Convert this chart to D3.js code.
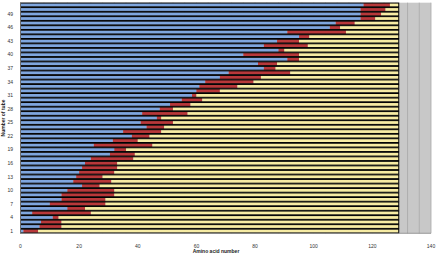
<!DOCTYPE html>
<html>
<head>
<meta charset="utf-8">
<script src="https://cdn.jsdelivr.net/npm/d3@7"></script>
<style>
  body { margin: 0; background: #fff; }
  text { font-family: "Liberation Sans", Arial, sans-serif; }
</style>
</head>
<body>
<script>
// tube numbers (categories), bottom to top
var tubes = [1, 2, 3, 4, 5, 6, 7, 8, 9, 10, 11, 12, 13, 14, 15, 16, 17, 18, 19, 20,
  21, 22, 23, 24, 25, 26, 27, 28, 29, 30, 31, 32, 33, 34, 35, 36, 37, 38, 39, 40,
  41, 42, 43, 44, 45, 46, 47, 48, 49, 50, 51];
// blue segment length (amino acids)
var blueLen = [1, 6.5, 7, 11, 4, 16, 10, 14, 14, 16, 21, 18, 19, 20, 21, 22, 24, 30.5, 32, 25,
  31.5, 38, 35, 43, 41, 46.5, 41.5, 47.5, 51, 55, 58.5, 60, 61, 63, 68, 71, 83, 81, 91, 76,
  88, 83, 87.5, 95, 91, 105.5, 107.5, 116, 116, 116, 117];
// red segment length
var redLen = [5, 7.5, 7, 2, 20, 6, 19, 15, 18, 16, 6, 13, 9, 12, 12, 11, 14.5, 8.5, 4, 20,
  8.5, 6, 13, 6, 11, 1.5, 15.5, 4.5, 7, 7, 1.5, 8, 13, 16.5, 14, 21, 4, 6.5, 4, 19,
  2, 15, 7.5, 3.5, 20, 3.5, 6.5, 5, 7, 8.5, 9];
// yellow segment length
var yellowLen = [123, 115, 115, 116, 105, 107, 100, 100, 97, 97, 102, 98, 101, 97, 96, 96, 90.5, 90, 93, 84,
  89, 85, 81, 80, 77, 81, 72, 77, 71, 67, 69, 61, 55, 49.5, 47, 37, 42, 41.5, 34, 34,
  39, 31, 34, 30.5, 18, 20, 15, 8, 6, 4.5, 3];
var xTicks = [0, 20, 40, 60, 80, 100, 120, 140];
var yTickLabels = [1, 4, 7, 10, 13, 16, 19, 22, 25, 28, 31, 34, 37, 40, 43, 46, 49];

var width = 436;
var height = 256;
var plotL = 20.5, plotR = 431, plotT = 2.7, plotB = 233.3;

var svg = d3.select("body").append("svg")
  .attr("width", width)
  .attr("height", height);

var x = d3.scaleLinear().domain([0, 140]).range([plotL, plotR]);
var y = d3.scaleBand().domain(tubes).range([plotB, plotT]).padding(0);

// plot area
svg.append("rect")
  .attr("x", plotL).attr("y", plotT)
  .attr("width", plotR - plotL).attr("height", plotB - plotT)
  .style("fill", "#c8c8c8");

// vertical gridlines every 4
svg.append("g")
  .selectAll("line")
  .data(d3.range(4, 141, 4))
  .enter().append("line")
  .attr("x1", function (d) { return x(d); })
  .attr("x2", function (d) { return x(d); })
  .attr("y1", plotT).attr("y2", plotB)
  .style("stroke", "#a8a8a8")
  .style("stroke-width", 0.8);

var rows = tubes.map(function (t, i) {
  return { tube: t, segs: [blueLen[i], redLen[i], yellowLen[i]] };
});
var colors = ["#7fa6de", "#b8383a", "#f7eca4"];

var bh = y.bandwidth() * 0.84;
var bars = svg.append("g")
  .selectAll("g")
  .data(rows)
  .enter().append("g")
  .attr("transform", function (d) { return "translate(0," + (y(d.tube) + (y.bandwidth() - bh) / 2) + ")"; });

bars.each(function (d) {
  var g = d3.select(this);
  var start = 0;
  d.segs.forEach(function (len, k) {
    g.append("rect")
      .attr("x", x(start))
      .attr("y", 0)
      .attr("width", x(start + len) - x(start))
      .attr("height", bh)
      .style("fill", colors[k]);
    start += len;
  });
  g.append("rect")
    .attr("x", x(0))
    .attr("y", 0)
    .attr("width", x(start) - x(0))
    .attr("height", bh)
    .style("fill", "none")
    .style("stroke", "#000")
    .style("stroke-width", 1);
});

// axes
svg.append("line")
  .attr("x1", plotL).attr("x2", plotR).attr("y1", plotB).attr("y2", plotB)
  .style("stroke", "#888").style("stroke-width", 0.8);
svg.append("line")
  .attr("x1", plotL).attr("x2", plotL).attr("y1", plotT).attr("y2", plotB)
  .style("stroke", "#888").style("stroke-width", 0.8);

svg.append("g")
  .selectAll("text")
  .data(xTicks)
  .enter().append("text")
  .attr("x", function (d) { return x(d); })
  .attr("y", 247.5)
  .attr("text-anchor", "middle")
  .style("font-size", "5px")
  .style("fill", "#333")
  .text(function (d) { return d; });

svg.append("g")
  .selectAll("text")
  .data(yTickLabels)
  .enter().append("text")
  .attr("x", 13)
  .attr("y", function (d) { return y(d) + y.bandwidth() / 2 + 1.8; })
  .attr("text-anchor", "end")
  .style("font-size", "5px")
  .style("fill", "#333")
  .text(function (d) { return d; });

svg.append("text")
  .attr("x", 216)
  .attr("y", 253)
  .attr("text-anchor", "middle")
  .style("font-size", "5px")
  .style("font-weight", "bold")
  .style("fill", "#222")
  .text("Amino acid number");

svg.append("text")
  .attr("transform", "translate(4.5,118) rotate(-90)")
  .attr("text-anchor", "middle")
  .style("font-size", "5px")
  .style("font-weight", "bold")
  .style("fill", "#222")
  .text("Number of tube");
</script>
</body>
</html>
